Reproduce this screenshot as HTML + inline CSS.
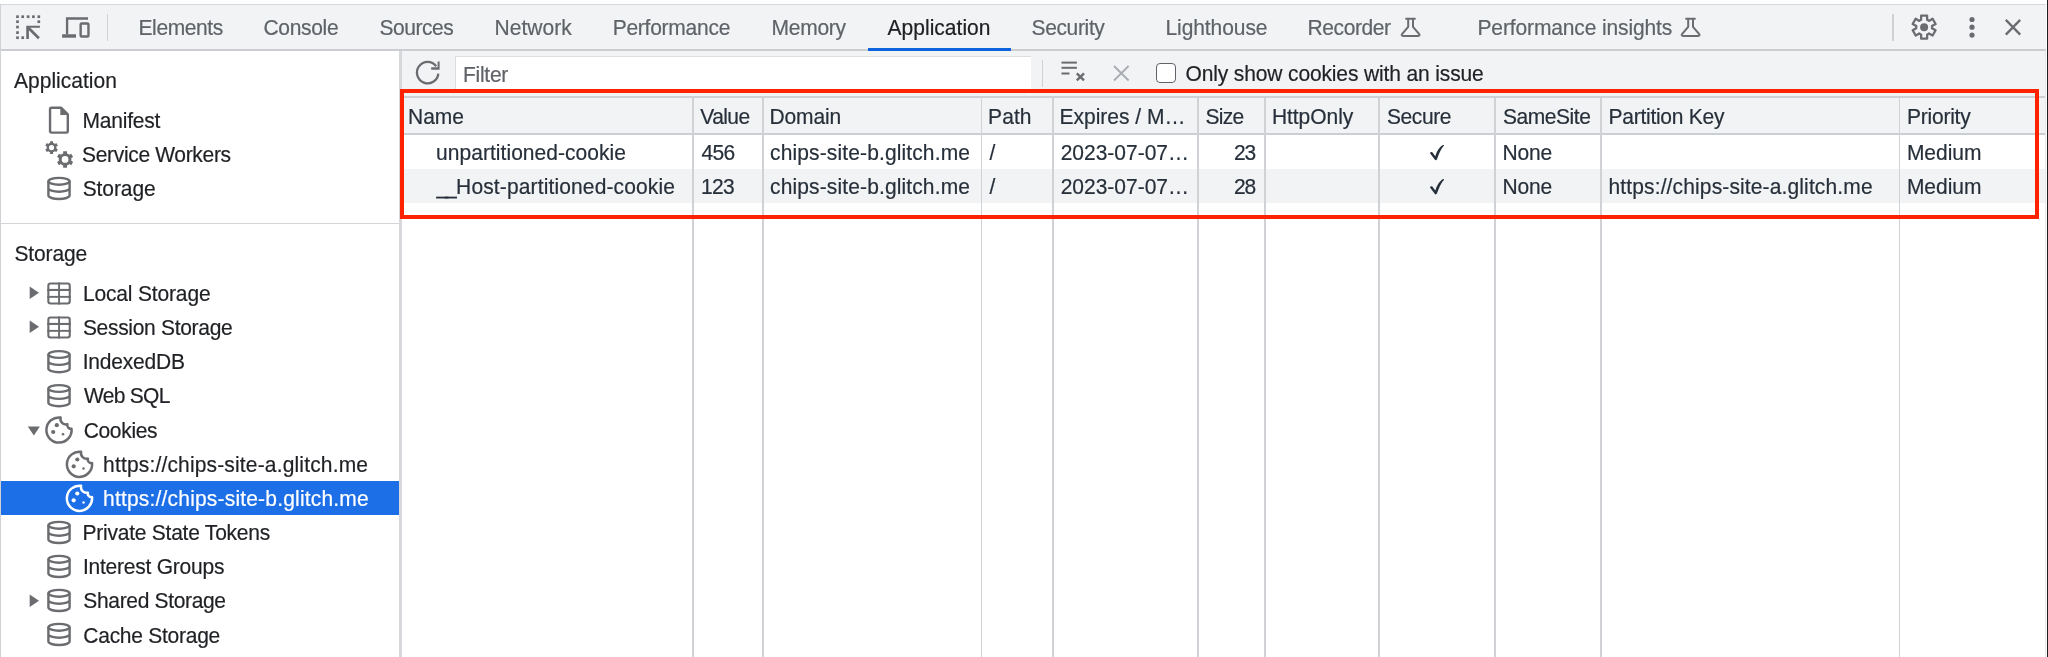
<!DOCTYPE html>
<html><head><meta charset="utf-8"><style>
html,body{margin:0;padding:0;width:2048px;height:657px;overflow:hidden;background:#fff}
body{position:relative;font-family:"Liberation Sans",sans-serif}
.t{position:absolute;white-space:pre;font-size:21px;line-height:30px;height:30px;-webkit-text-stroke:0.2px currentColor;transform:scaleY(1.06);transform-origin:0 22px}
body{-webkit-font-smoothing:antialiased}
#txt{position:absolute;left:0;top:0;width:2048px;height:657px;will-change:transform}
.r{position:absolute}
svg{position:absolute;overflow:visible}
</style></head><body>
<div class="r" style="left:0px;top:4px;width:2046px;height:1px;background:#d6d8db;"></div>
<div class="r" style="left:0px;top:5px;width:2046px;height:45px;background:#f1f3f4;"></div>
<div class="r" style="left:0px;top:49.4px;width:2046px;height:1.5px;background:#cbcdd1;"></div>
<div class="r" style="left:0px;top:4px;width:1px;height:653px;background:#cfd1d5;"></div>
<div class="r" style="left:2046.6px;top:0px;width:1.4px;height:657px;background:#1d1d1f;"></div>
<div class="r" style="left:2045px;top:51px;width:1px;height:606px;background:#e6e7e9;"></div>
<div class="r" style="left:868px;top:48.4px;width:143px;height:2.7px;background:#0b63de;"></div>
<div class="r" style="left:107px;top:14px;width:1px;height:27px;background:#cfd1d5;"></div>
<div class="r" style="left:1892px;top:14px;width:1.5px;height:27px;background:#cfd1d5;"></div>
<div class="r" style="left:398.5px;top:51px;width:3px;height:606px;background:#d6d8dc;"></div>
<div class="r" style="left:1px;top:223px;width:398px;height:1px;background:#d3d5d9;"></div>
<div class="r" style="left:1px;top:481px;width:397.5px;height:34.2px;background:#1c6fe6;"></div>
<div class="r" style="left:401.5px;top:51px;width:1643.5px;height:45px;background:#f1f3f4;"></div>
<div class="r" style="left:455.1px;top:55.6px;width:575.5px;height:33.4px;background:#ffffff;border-top:1px solid #dcdee1;border-left:1px solid #dcdee1;box-sizing:border-box"></div>
<div class="r" style="left:1041.5px;top:60px;width:1.5px;height:27px;background:#cfd1d5;"></div>
<div class="r" style="left:1155.7px;top:63.3px;width:20px;height:20px;background:#ffffff;border:1.6px solid #5f6368;border-radius:4px;box-sizing:border-box"></div>
<div class="r" style="left:400px;top:96px;width:1645px;height:2px;background:#cdd0d4;"></div>
<div class="r" style="left:400px;top:98px;width:1645px;height:35px;background:#f1f3f4;"></div>
<div class="r" style="left:400px;top:133px;width:1645px;height:2px;background:#cbced2;"></div>
<div class="r" style="left:400px;top:169px;width:1645px;height:34px;background:#f1f3f4;"></div>
<div class="r" style="left:692px;top:98px;width:2px;height:559px;background:#d0d2d6;"></div>
<div class="r" style="left:762px;top:98px;width:2px;height:559px;background:#d0d2d6;"></div>
<div class="r" style="left:980.5px;top:98px;width:1.7px;height:559px;background:#d0d2d6;"></div>
<div class="r" style="left:1052px;top:98px;width:2px;height:559px;background:#d0d2d6;"></div>
<div class="r" style="left:1197px;top:98px;width:2px;height:559px;background:#d0d2d6;"></div>
<div class="r" style="left:1264px;top:98px;width:2px;height:559px;background:#d0d2d6;"></div>
<div class="r" style="left:1378px;top:98px;width:2px;height:559px;background:#d0d2d6;"></div>
<div class="r" style="left:1494px;top:98px;width:2px;height:559px;background:#d0d2d6;"></div>
<div class="r" style="left:1600px;top:98px;width:2px;height:559px;background:#d0d2d6;"></div>
<div class="r" style="left:1898.5px;top:98px;width:1.8px;height:559px;background:#d0d2d6;"></div>
<div id="txt">
<div class="t" style="left:138.50px;top:13.00px;color:#5f6368;letter-spacing:-0.393px;">Elements</div>
<div class="t" style="left:263.50px;top:13.00px;color:#5f6368;letter-spacing:-0.325px;">Console</div>
<div class="t" style="left:379.50px;top:13.00px;color:#5f6368;letter-spacing:-0.458px;">Sources</div>
<div class="t" style="left:494.50px;top:13.00px;color:#5f6368;letter-spacing:0.042px;">Network</div>
<div class="t" style="left:612.70px;top:13.00px;color:#5f6368;letter-spacing:-0.260px;">Performance</div>
<div class="t" style="left:771.50px;top:13.00px;color:#5f6368;letter-spacing:-0.250px;">Memory</div>
<div class="t" style="left:887.50px;top:13.00px;color:#202124;letter-spacing:0.025px;">Application</div>
<div class="t" style="left:1031.50px;top:13.00px;color:#5f6368;letter-spacing:-0.357px;">Security</div>
<div class="t" style="left:1165.50px;top:13.00px;color:#5f6368;letter-spacing:-0.083px;">Lighthouse</div>
<div class="t" style="left:1307.50px;top:13.00px;color:#5f6368;letter-spacing:-0.393px;">Recorder</div>
<div class="t" style="left:1477.50px;top:13.00px;color:#5f6368;letter-spacing:-0.132px;">Performance insights</div>
<div class="t" style="left:14.10px;top:65.90px;color:#1f2124;">Application</div>
<div class="t" style="left:82.50px;top:105.80px;color:#1f2124;letter-spacing:-0.214px;">Manifest</div>
<div class="t" style="left:82.10px;top:140.00px;color:#1f2124;letter-spacing:-0.336px;">Service Workers</div>
<div class="t" style="left:82.70px;top:173.90px;color:#1f2124;letter-spacing:-0.083px;">Storage</div>
<div class="t" style="left:14.50px;top:238.80px;color:#1f2124;letter-spacing:-0.150px;">Storage</div>
<div class="t" style="left:82.90px;top:279.00px;color:#1f2124;letter-spacing:-0.158px;">Local Storage</div>
<div class="t" style="left:82.90px;top:313.15px;color:#1f2124;letter-spacing:-0.307px;">Session Storage</div>
<div class="t" style="left:82.70px;top:347.30px;color:#1f2124;letter-spacing:-0.200px;">IndexedDB</div>
<div class="t" style="left:83.90px;top:381.45px;color:#1f2124;letter-spacing:-0.683px;">Web SQL</div>
<div class="t" style="left:83.70px;top:415.60px;color:#1f2124;letter-spacing:-0.333px;">Cookies</div>
<div class="t" style="left:103.10px;top:449.75px;color:#1f2124;letter-spacing:0.159px;">https://chips-site-a.glitch.me</div>
<div class="t" style="left:103.10px;top:483.90px;color:#ffffff;letter-spacing:0.183px;">https://chips-site-b.glitch.me</div>
<div class="t" style="left:82.50px;top:518.05px;color:#1f2124;letter-spacing:-0.237px;">Private State Tokens</div>
<div class="t" style="left:82.90px;top:552.20px;color:#1f2124;letter-spacing:-0.229px;">Interest Groups</div>
<div class="t" style="left:83.30px;top:586.35px;color:#1f2124;letter-spacing:-0.338px;">Shared Storage</div>
<div class="t" style="left:83.30px;top:620.50px;color:#1f2124;letter-spacing:-0.258px;">Cache Storage</div>
<div class="t" style="left:462.90px;top:59.90px;color:#5f6368;letter-spacing:-0.240px;">Filter</div>
<div class="t" style="left:1185.50px;top:58.80px;color:#1f2124;letter-spacing:-0.135px;">Only show cookies with an issue</div>
<div class="t" style="left:408.10px;top:101.60px;color:#27303a;letter-spacing:-0.100px;">Name</div>
<div class="t" style="left:700.30px;top:101.60px;color:#27303a;letter-spacing:-0.575px;">Value</div>
<div class="t" style="left:769.50px;top:101.60px;color:#27303a;letter-spacing:-0.130px;">Domain</div>
<div class="t" style="left:988.10px;top:101.60px;color:#27303a;letter-spacing:0.067px;">Path</div>
<div class="t" style="left:1059.50px;top:101.60px;color:#27303a;letter-spacing:-0.005px;">Expires / M…</div>
<div class="t" style="left:1205.50px;top:101.60px;color:#27303a;letter-spacing:-0.683px;">Size</div>
<div class="t" style="left:1271.90px;top:101.60px;color:#27303a;letter-spacing:-0.043px;">HttpOnly</div>
<div class="t" style="left:1386.90px;top:101.60px;color:#27303a;letter-spacing:-0.380px;">Secure</div>
<div class="t" style="left:1502.90px;top:101.60px;color:#27303a;letter-spacing:-0.443px;">SameSite</div>
<div class="t" style="left:1608.50px;top:101.60px;color:#27303a;letter-spacing:-0.258px;">Partition Key</div>
<div class="t" style="left:1906.90px;top:101.60px;color:#27303a;letter-spacing:-0.214px;">Priority</div>
<div class="t" style="left:436.10px;top:138.00px;color:#27303a;letter-spacing:0.037px;">unpartitioned-cookie</div>
<div class="t" style="left:701.50px;top:138.00px;color:#27303a;letter-spacing:-0.625px;">456</div>
<div class="t" style="left:770.10px;top:138.00px;color:#27303a;letter-spacing:0.124px;">chips-site-b.glitch.me</div>
<div class="t" style="left:989.50px;top:138.00px;color:#27303a;">/</div>
<div class="t" style="left:1060.70px;top:138.00px;color:#27303a;letter-spacing:-0.010px;">2023-07-07…</div>
<div class="t" style="left:1234.10px;top:138.00px;color:#27303a;letter-spacing:-1.150px;">23</div>
<div class="t" style="left:1502.50px;top:138.00px;color:#27303a;letter-spacing:-0.150px;">None</div>
<div class="t" style="left:1906.90px;top:138.00px;color:#27303a;letter-spacing:-0.020px;">Medium</div>
<div class="t" style="left:436.45px;top:172.00px;color:#27303a;letter-spacing:-3.200px;">__</div>
<div class="t" style="left:456.10px;top:172.00px;color:#27303a;letter-spacing:0.132px;">Host-partitioned-cookie</div>
<div class="t" style="left:701.10px;top:172.00px;color:#27303a;letter-spacing:-0.700px;">123</div>
<div class="t" style="left:770.10px;top:172.00px;color:#27303a;letter-spacing:0.124px;">chips-site-b.glitch.me</div>
<div class="t" style="left:989.50px;top:172.00px;color:#27303a;">/</div>
<div class="t" style="left:1060.70px;top:172.00px;color:#27303a;letter-spacing:-0.010px;">2023-07-07…</div>
<div class="t" style="left:1234.10px;top:172.00px;color:#27303a;letter-spacing:-1.150px;">28</div>
<div class="t" style="left:1502.50px;top:172.00px;color:#27303a;letter-spacing:-0.150px;">None</div>
<div class="t" style="left:1608.50px;top:172.00px;color:#27303a;letter-spacing:0.131px;">https://chips-site-a.glitch.me</div>
<div class="t" style="left:1906.90px;top:172.00px;color:#27303a;letter-spacing:-0.020px;">Medium</div>
</div>
<svg width="2048" height="657" style="left:0;top:0"><rect x="16.15" y="15.35" width="2.7" height="2.7" fill="#6b6c70"/><rect x="21.35" y="15.35" width="2.7" height="2.7" fill="#6b6c70"/><rect x="26.75" y="15.35" width="2.7" height="2.7" fill="#6b6c70"/><rect x="32.05" y="15.35" width="2.7" height="2.7" fill="#6b6c70"/><rect x="37.45" y="15.35" width="2.7" height="2.7" fill="#6b6c70"/><rect x="16.15" y="20.35" width="2.7" height="2.7" fill="#6b6c70"/><rect x="16.15" y="25.70" width="2.7" height="2.7" fill="#6b6c70"/><rect x="16.15" y="31.25" width="2.7" height="2.7" fill="#6b6c70"/><rect x="16.15" y="36.35" width="2.7" height="2.7" fill="#6b6c70"/><rect x="21.35" y="36.35" width="2.7" height="2.7" fill="#6b6c70"/><rect x="37.45" y="20.35" width="2.7" height="2.7" fill="#6b6c70"/><path d="M26.25 25.7 H39.9 V27.85 H28.9 V39 H26.25 Z" fill="#6b6c70"/><path d="M27.8 27.2 L38.9 38.3" stroke="#6b6c70" stroke-width="2.7"/><path d="M65.9 17.2 H88 V19.85 H68.25 V34.3 H65.9 Z" fill="#6b6c70"/><rect x="62.1" y="34.25" width="13.9" height="3.45" fill="#6b6c70"/><rect x="80.65" y="23.45" width="7.8" height="13.05" rx="1" fill="none" stroke="#6b6c70" stroke-width="2.4"/><path d="M1408.2 19 V26.8 L1402.2 33.9 Q1400.8 35.9 1403.2 35.9 H1418 Q1420.4 35.9 1419 33.9 L1413 26.8 V19" fill="none" stroke="#6b6c70" stroke-width="2" stroke-linejoin="round"/><path d="M1406.1 18.85 H1414.9" stroke="#6b6c70" stroke-width="2" stroke-linecap="round"/><path d="M1688.2 19 V26.8 L1682.2 33.9 Q1680.8 35.9 1683.2 35.9 H1698 Q1700.4 35.9 1699 33.9 L1693 26.8 V19" fill="none" stroke="#6b6c70" stroke-width="2" stroke-linejoin="round"/><path d="M1686.1 18.85 H1694.9" stroke="#6b6c70" stroke-width="2" stroke-linecap="round"/><path d="M1921.13 19.82 L1921.13 15.63 L1927.13 15.63 L1927.13 19.82 L1927.61 20.04 L1928.08 20.29 L1928.53 20.57 L1928.96 20.88 L1932.59 18.78 L1935.59 23.98 L1931.96 26.07 L1932.01 26.60 L1932.03 27.13 L1932.01 27.66 L1931.96 28.19 L1935.59 30.28 L1932.59 35.48 L1928.96 33.38 L1928.53 33.69 L1928.08 33.97 L1927.61 34.22 L1927.13 34.44 L1927.13 38.63 L1921.13 38.63 L1921.13 34.44 L1920.65 34.22 L1920.18 33.97 L1919.73 33.69 L1919.30 33.38 L1915.67 35.48 L1912.67 30.28 L1916.30 28.19 L1916.25 27.66 L1916.23 27.13 L1916.25 26.60 L1916.30 26.07 L1912.67 23.98 L1915.67 18.78 L1919.30 20.88 L1919.73 20.57 L1920.18 20.29 L1920.65 20.04 Z" fill="none" stroke="#6b6c70" stroke-width="2.3" stroke-linejoin="round"/><circle cx="1924.1" cy="27.15" r="4" fill="#6b6c70"/><circle cx="1972" cy="19.5" r="2.6" fill="#6b6c70"/><circle cx="1972" cy="27.2" r="2.6" fill="#6b6c70"/><circle cx="1972" cy="35.1" r="2.6" fill="#6b6c70"/><path d="M2005.8 19.9 L2020.2 34.6 M2020.2 19.9 L2005.8 34.6" stroke="#6b6c70" stroke-width="2.3"/><path d="M438.3 73.6 A10.7 10.7 0 1 1 436.2 66.2" fill="none" stroke="#6b6c70" stroke-width="2.3"/><path d="M437.6 61.4 H439.6 V69.8 H431.2 V67.2 H437.6 Z" fill="#6b6c70"/><rect x="1061.5" y="61.6" width="15.4" height="2" fill="#6b6c70"/><rect x="1061.5" y="66.8" width="15.4" height="2" fill="#6b6c70"/><rect x="1061.5" y="72.5" width="8" height="2" fill="#6b6c70"/><path d="M1076.8 73.3 L1084 80.3 M1084 73.3 L1076.8 80.3" stroke="#6b6c70" stroke-width="2.4"/><path d="M1114 66 L1128.6 80.5 M1128.6 66 L1114 80.5" stroke="#a9acb0" stroke-width="1.8"/><path d="M51.6 107.8 H61.2 L67.8 114.4 V131.1 Q67.8 132.65 66.25 132.65 H51.6 Q50.05 132.65 50.05 131.1 V109.35 Q50.05 107.8 51.6 107.8 Z" fill="none" stroke="#6b6c70" stroke-width="2.4" stroke-linejoin="round"/><path d="M60.3 107.2 V114.9 H68.4 Z" fill="#6b6c70"/><path d="M50.06 142.90 L50.06 141.16 L53.06 141.16 L53.06 142.90 L53.55 143.08 L54.01 143.32 L54.45 143.60 L54.85 143.93 L56.35 143.06 L57.85 145.66 L56.35 146.53 L56.43 147.04 L56.46 147.56 L56.43 148.08 L56.35 148.59 L57.85 149.46 L56.35 152.06 L54.85 151.19 L54.45 151.52 L54.01 151.80 L53.55 152.04 L53.06 152.22 L53.06 153.96 L50.06 153.96 L50.06 152.22 L49.57 152.04 L49.11 151.80 L48.67 151.52 L48.27 151.19 L46.77 152.06 L45.27 149.46 L46.77 148.59 L46.69 148.08 L46.66 147.56 L46.69 147.04 L46.77 146.53 L45.27 145.66 L46.77 143.06 L48.27 143.93 L48.67 143.60 L49.11 143.32 L49.57 143.08 Z M48.96 147.56 a2.6 2.6 0 1 0 5.2 0 a2.6 2.6 0 1 0 -5.2 0 Z" fill="#6b6c70" fill-rule="evenodd"/><path d="M63.18 153.42 L63.18 151.23 L66.98 151.23 L66.98 153.42 L67.62 153.66 L68.23 153.97 L68.80 154.35 L69.33 154.78 L71.23 153.68 L73.13 156.98 L71.23 158.07 L71.34 158.75 L71.38 159.43 L71.34 160.11 L71.23 160.79 L73.13 161.88 L71.23 165.18 L69.33 164.08 L68.80 164.51 L68.23 164.89 L67.62 165.20 L66.98 165.44 L66.98 167.63 L63.18 167.63 L63.18 165.44 L62.54 165.20 L61.93 164.89 L61.36 164.51 L60.83 164.08 L58.93 165.18 L57.03 161.88 L58.93 160.79 L58.82 160.11 L58.78 159.43 L58.82 158.75 L58.93 158.07 L57.03 156.98 L58.93 153.68 L60.83 154.78 L61.36 154.35 L61.93 153.97 L62.54 153.66 Z M61.68 159.43 a3.4 3.4 0 1 0 6.8 0 a3.4 3.4 0 1 0 -6.8 0 Z" fill="#6b6c70" fill-rule="evenodd"/><ellipse cx="59.0" cy="181.30" rx="10.6" ry="3.4" fill="none" stroke="#6b6c70" stroke-width="2.4"/><path d="M48.4 181.30 V195.60 A10.6 3.4 0 0 0 69.6 195.60 V181.30 M48.4 188.30 A10.6 3.4 0 0 0 69.6 188.30" fill="none" stroke="#6b6c70" stroke-width="2.4"/><path d="M29.7 286.6 L39 292.8 L29.7 299.0 Z" fill="#6b6c70"/><rect x="48.349999999999994" y="283.55" width="21.4" height="19.9" rx="2.2" fill="none" stroke="#6b6c70" stroke-width="2.1"/><rect x="58.1" y="282.5" width="1.9" height="22" fill="#6b6c70"/><rect x="47.3" y="288.9" width="23.5" height="2.1" fill="#6b6c70"/><rect x="47.3" y="295.9" width="23.5" height="1.9" fill="#6b6c70"/><path d="M29.7 320.6 L39 326.8 L29.7 333.0 Z" fill="#6b6c70"/><rect x="48.349999999999994" y="317.55" width="21.4" height="19.9" rx="2.2" fill="none" stroke="#6b6c70" stroke-width="2.1"/><rect x="58.1" y="316.5" width="1.9" height="22" fill="#6b6c70"/><rect x="47.3" y="322.9" width="23.5" height="2.1" fill="#6b6c70"/><rect x="47.3" y="329.9" width="23.5" height="1.9" fill="#6b6c70"/><ellipse cx="59.0" cy="354.50" rx="10.6" ry="3.4" fill="none" stroke="#6b6c70" stroke-width="2.4"/><path d="M48.4 354.50 V368.80 A10.6 3.4 0 0 0 69.6 368.80 V354.50 M48.4 361.50 A10.6 3.4 0 0 0 69.6 361.50" fill="none" stroke="#6b6c70" stroke-width="2.4"/><ellipse cx="59.0" cy="388.50" rx="10.6" ry="3.4" fill="none" stroke="#6b6c70" stroke-width="2.4"/><path d="M48.4 388.50 V402.80 A10.6 3.4 0 0 0 69.6 402.80 V388.50 M48.4 395.50 A10.6 3.4 0 0 0 69.6 395.50" fill="none" stroke="#6b6c70" stroke-width="2.4"/><path d="M27.8 426.4 H39.9 L33.85 435.6 Z" fill="#6b6c70"/><path d="M60.60 417.50 A12.6 12.6 0 1 0 71.54 428.80 A3.6 3.6 0 0 1 67.40 424.30 A5.6 5.6 0 0 1 60.60 417.50 Z" fill="none" stroke="#6b6c70" stroke-width="2.5" stroke-linejoin="round"/><circle cx="56.80" cy="425.20" r="2.1" fill="#6b6c70"/><circle cx="53.20" cy="432.00" r="2.1" fill="#6b6c70"/><circle cx="63.00" cy="434.20" r="1.25" fill="#6b6c70"/><path d="M81.10 451.80 A12.6 12.6 0 1 0 92.04 463.10 A3.6 3.6 0 0 1 87.90 458.60 A5.6 5.6 0 0 1 81.10 451.80 Z" fill="none" stroke="#6b6c70" stroke-width="2.5" stroke-linejoin="round"/><circle cx="77.30" cy="459.50" r="2.1" fill="#6b6c70"/><circle cx="73.70" cy="466.30" r="2.1" fill="#6b6c70"/><circle cx="83.50" cy="468.50" r="1.25" fill="#6b6c70"/><path d="M81.10 485.80 A12.6 12.6 0 1 0 92.04 497.10 A3.6 3.6 0 0 1 87.90 492.60 A5.6 5.6 0 0 1 81.10 485.80 Z" fill="none" stroke="#ffffff" stroke-width="2.5" stroke-linejoin="round"/><circle cx="77.30" cy="493.50" r="2.1" fill="#ffffff"/><circle cx="73.70" cy="500.30" r="2.1" fill="#ffffff"/><circle cx="83.50" cy="502.50" r="1.25" fill="#ffffff"/><ellipse cx="59.0" cy="525.30" rx="10.6" ry="3.4" fill="none" stroke="#6b6c70" stroke-width="2.4"/><path d="M48.4 525.30 V539.60 A10.6 3.4 0 0 0 69.6 539.60 V525.30 M48.4 532.30 A10.6 3.4 0 0 0 69.6 532.30" fill="none" stroke="#6b6c70" stroke-width="2.4"/><ellipse cx="59.0" cy="559.30" rx="10.6" ry="3.4" fill="none" stroke="#6b6c70" stroke-width="2.4"/><path d="M48.4 559.30 V573.60 A10.6 3.4 0 0 0 69.6 573.60 V559.30 M48.4 566.30 A10.6 3.4 0 0 0 69.6 566.30" fill="none" stroke="#6b6c70" stroke-width="2.4"/><path d="M29.7 594.5999999999999 L39 600.8 L29.7 607.0 Z" fill="#6b6c70"/><ellipse cx="59.0" cy="593.30" rx="10.6" ry="3.4" fill="none" stroke="#6b6c70" stroke-width="2.4"/><path d="M48.4 593.30 V607.60 A10.6 3.4 0 0 0 69.6 607.60 V593.30 M48.4 600.30 A10.6 3.4 0 0 0 69.6 600.30" fill="none" stroke="#6b6c70" stroke-width="2.4"/><ellipse cx="59.0" cy="627.30" rx="10.6" ry="3.4" fill="none" stroke="#6b6c70" stroke-width="2.4"/><path d="M48.4 627.30 V641.60 A10.6 3.4 0 0 0 69.6 641.60 V627.30 M48.4 634.30 A10.6 3.4 0 0 0 69.6 634.30" fill="none" stroke="#6b6c70" stroke-width="2.4"/><path transform="translate(0 0.6)" d="M1430 152.7 Q1430.3 151.2 1432.1 151.5 L1435.3 155.6 Q1437.4 148.6 1441.6 145.2 Q1443.3 143.9 1444 144.5 Q1444.1 145.4 1443 146.2 Q1440.3 149.4 1436.9 158.8 Q1436.3 159.9 1435.1 159.5 Z" fill="#27303a"/><path transform="translate(0 34.8)" d="M1430 152.7 Q1430.3 151.2 1432.1 151.5 L1435.3 155.6 Q1437.4 148.6 1441.6 145.2 Q1443.3 143.9 1444 144.5 Q1444.1 145.4 1443 146.2 Q1440.3 149.4 1436.9 158.8 Q1436.3 159.9 1435.1 159.5 Z" fill="#27303a"/></svg>
<div class="r" style="left:399.5px;top:89px;width:1639.1px;height:129.6px;background:transparent;border:4.3px solid #ff2200;box-sizing:border-box"></div>
</body></html>
